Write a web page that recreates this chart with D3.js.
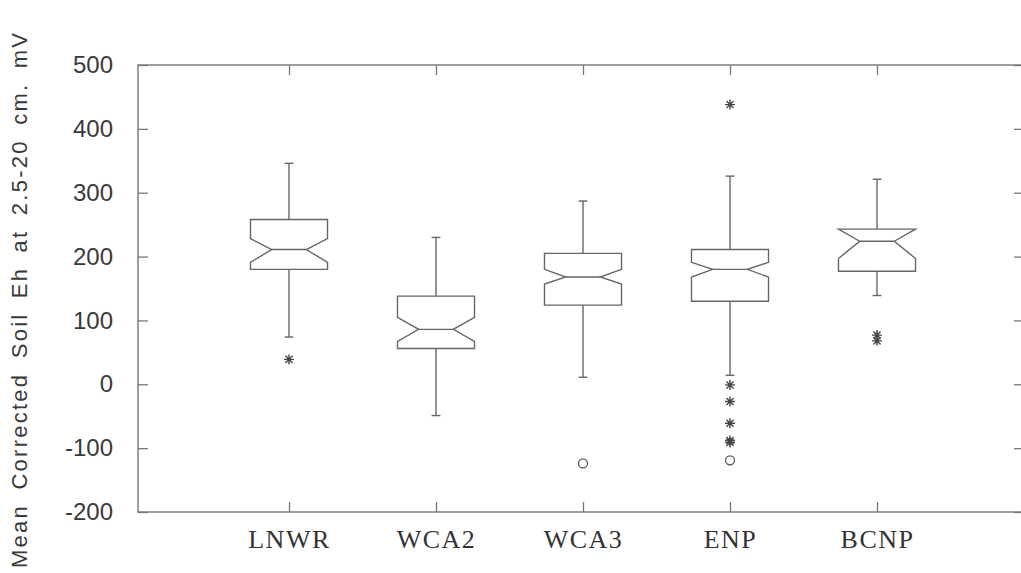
<!DOCTYPE html>
<html>
<head>
<meta charset="utf-8">
<script src="https://cdn.jsdelivr.net/npm/d3@7"></script>
<style>
  html, body { margin: 0; padding: 0; background: #fff; }
  svg { display: block; }
</style>
</head>
<body>
<svg id="chart" width="1021" height="573"></svg>
<script>
// ---- Data ----
const categories   = ["LNWR", "WCA2", "WCA3", "ENP", "BCNP"];
const q1           = [180, 56, 124, 130, 177];
const median       = [211, 86, 168, 180, 224];
const q3           = [258, 138, 205, 211, 243];
const whiskerLow   = [74, -49, 11, 14, 139];
const whiskerHigh  = [346, 230, 287, 326, 321];
const notchLow     = [191, 67, 157, 168, 197];
const notchHigh    = [228, 105, 180, 191, 251];
const farOutliers  = [[39], [], [], [438, -1, -27, -61, -88, -91], [77, 68]];   // asterisks
const extOutliers  = [[], [], [-124], [-119], []];                             // circles
const yTicks       = [-200, -100, 0, 100, 200, 300, 400, 500];
const yTitle       = "Mean Corrected Soil Eh at 2.5-20 cm. mV";

(function () {
// ---- Layout ----
const svg = d3.select("#chart");
const mLeft = 138, mRight = 1024, mTop = 65, mBottom = 512;
const lineColor = "#666";
const frameColor = "#777";
const textColor = "#3a3a3a";

const x = d3.scaleLinear().domain([0, categories.length + 1]).range([142, 1024]);
const y = d3.scaleLinear().domain([-200, 500]).range([mBottom, mTop]);

const halfW = 0.262;    // box half width in x units
const innerFrac = 0.45; // notch inner half-width fraction
const capHalf = 0.03;

// Frame
svg.append("rect")
  .attr("x", mLeft).attr("y", mTop)
  .attr("width", mRight - mLeft).attr("height", mBottom - mTop)
  .attr("fill", "none").attr("stroke", frameColor).attr("stroke-width", 1.4);

// Left axis (inward ticks)
const fmt = d => String(d); // hyphen-minus as in reference
const yAxis = d3.axisLeft(y).tickValues(yTicks).tickFormat(fmt).tickSizeInner(-10).tickSizeOuter(0).tickPadding(25);
const gy = svg.append("g").attr("transform", `translate(${mLeft},0)`).call(yAxis);
gy.select(".domain").remove();
gy.selectAll(".tick line").attr("stroke", frameColor).attr("stroke-width", 1.3);
gy.selectAll(".tick text")
  .attr("fill", textColor)
  .style("font-family", "'Liberation Sans', Arial, sans-serif")
  .style("font-size", "24px");

// Right axis ticks (inward)
const yAxisR = d3.axisRight(y).tickValues(yTicks).tickFormat("").tickSizeInner(-10).tickSizeOuter(0);
const gyr = svg.append("g").attr("transform", `translate(${mRight},0)`).call(yAxisR);
gyr.select(".domain").remove();
gyr.selectAll(".tick line").attr("stroke", frameColor).attr("stroke-width", 1.3);

// Bottom axis (categories)
const catPos = categories.map((c, i) => i + 1);
const xAxis = d3.axisBottom(x).tickValues(catPos).tickFormat((d, i) => categories[i])
  .tickSizeInner(-10).tickSizeOuter(0).tickPadding(18);
const gx = svg.append("g").attr("transform", `translate(0,${mBottom})`).call(xAxis);
gx.select(".domain").remove();
gx.selectAll(".tick line").attr("stroke", frameColor).attr("stroke-width", 1.3);
gx.selectAll(".tick text")
  .attr("fill", "#333")
  .style("font-family", "'Liberation Serif', 'Times New Roman', serif")
  .style("font-size", "26px")
  .style("letter-spacing", "1.5px");

// Top axis ticks (inward)
const xAxisT = d3.axisTop(x).tickValues(catPos).tickFormat("").tickSizeInner(-10).tickSizeOuter(0);
const gxt = svg.append("g").attr("transform", `translate(0,${mTop})`).call(xAxisT);
gxt.select(".domain").remove();
gxt.selectAll(".tick line").attr("stroke", frameColor).attr("stroke-width", 1.3);

// Y title
svg.append("text")
  .attr("transform", `translate(27,${(568 + 33) / 2}) rotate(-90)`)
  .attr("text-anchor", "middle")
  .attr("fill", textColor)
  .attr("textLength", 535)
  .attr("lengthAdjust", "spacing")
  .style("font-family", "'Liberation Sans', Arial, sans-serif")
  .style("font-size", "22px")
  .style("word-spacing", "6px")
  .text(yTitle);

// Boxes
const g = svg.append("g").attr("fill", "none").attr("stroke", lineColor).attr("stroke-width", 1.4);

categories.forEach((c, i) => {
  const cx = i + 1;
  const l = x(cx - halfW), r = x(cx + halfW);
  const il = x(cx - halfW * innerFrac), ir = x(cx + halfW * innerFrac);
  const nh = Math.min(notchHigh[i], q3[i]);
  const nl = Math.max(notchLow[i], q1[i]);
  const pts = [
    [l, y(q3[i])], [l, y(nh)], [il, y(median[i])], [l, y(nl)], [l, y(q1[i])],
    [r, y(q1[i])], [r, y(nl)], [ir, y(median[i])], [r, y(nh)], [r, y(q3[i])]
  ];
  g.append("path").attr("d", d3.line()(pts) + "Z").attr("stroke-linejoin", "miter");
  g.append("line").attr("x1", il).attr("x2", ir).attr("y1", y(median[i])).attr("y2", y(median[i]));
  g.append("line").attr("x1", x(cx)).attr("x2", x(cx)).attr("y1", y(q3[i])).attr("y2", y(whiskerHigh[i]));
  g.append("line").attr("x1", x(cx)).attr("x2", x(cx)).attr("y1", y(q1[i])).attr("y2", y(whiskerLow[i]));
  [whiskerHigh[i], whiskerLow[i]].forEach(v => {
    g.append("line").attr("x1", x(cx - capHalf)).attr("x2", x(cx + capHalf)).attr("y1", y(v)).attr("y2", y(v));
  });
  farOutliers[i].forEach(v => {
    const px = x(cx), py = y(v), s = 5;
    let d = "";
    for (let k = 0; k < 4; k++) {
      const a = k * Math.PI / 4;
      d += `M${px - s * Math.cos(a)},${py - s * Math.sin(a)}L${px + s * Math.cos(a)},${py + s * Math.sin(a)}`;
    }
    g.append("path").attr("d", d).attr("stroke", "#444").attr("stroke-width", 1.4);
  });
  extOutliers[i].forEach(v => {
    g.append("circle").attr("cx", x(cx)).attr("cy", y(v)).attr("r", 4.5).attr("stroke", "#555").attr("stroke-width", 1.3);
  });
});
})();
</script>
</body>
</html>
